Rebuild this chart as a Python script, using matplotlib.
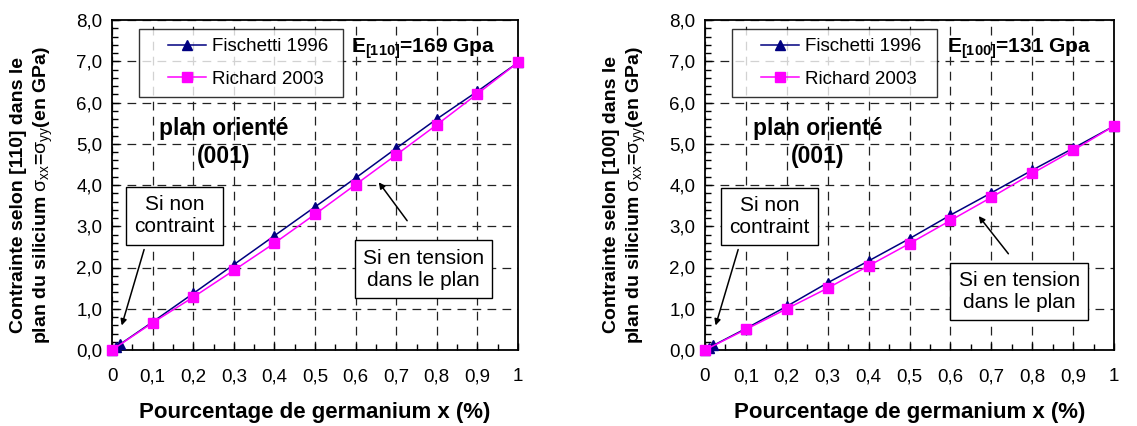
import numpy as np
import matplotlib
matplotlib.use('Agg')
import matplotlib.pyplot as plt
from matplotlib.ticker import MultipleLocator, FixedLocator
from matplotlib.lines import Line2D
from matplotlib.legend_handler import HandlerLine2D

plt.rcParams['font.family'] = ['Liberation Sans', 'DejaVu Sans']
plt.rcParams['mathtext.fontset'] = 'custom'
plt.rcParams['mathtext.rm'] = 'Liberation Sans'
plt.rcParams['mathtext.it'] = 'Liberation Sans:italic'
plt.rcParams['mathtext.bf'] = 'Liberation Sans:bold'

# x = fraction de germanium
x_fischetti = [0, 0.01, 0.02, 0.1, 0.2, 0.3, 0.4, 0.5, 0.6, 0.7, 0.8, 0.9, 1.0]
x_richard = [0, 0.1, 0.2, 0.3, 0.4, 0.5, 0.6, 0.7, 0.8, 0.9, 1.0]

# [110] : E = 169 GPa
fischetti_110 = [0, 0.07, 0.14, 0.68, 1.37, 2.07, 2.77, 3.47, 4.17, 4.89, 5.60, 6.27, 6.97]
richard_110 = [0, 0.66, 1.28, 1.93, 2.59, 3.29, 4.01, 4.73, 5.46, 6.21, 6.97]

# [100] : E = 131 GPa
fischetti_100 = [0, 0.055, 0.11, 0.52, 1.06, 1.63, 2.16, 2.70, 3.27, 3.81, 4.36, 4.89, 5.43]
richard_100 = [0, 0.50, 1.00, 1.50, 2.04, 2.58, 3.14, 3.70, 4.28, 4.84, 5.43]

x_ticks = [0, 0.1, 0.2, 0.3, 0.4, 0.5, 0.6, 0.7, 0.8, 0.9, 1.0]
x_ticklabels = ['0', '0,1', '0,2', '0,3', '0,4', '0,5', '0,6', '0,7', '0,8', '0,9', '1']
y_ticks = [0, 1, 2, 3, 4, 5, 6, 7, 8]
y_ticklabels = ['0,0', '1,0', '2,0', '3,0', '4,0', '5,0', '6,0', '7,0', '8,0']

panels = [
    dict(fis=fischetti_110, ric=richard_110, direction='110', E='169',
         pos=[112 / 1137, 76 / 426, 406 / 1137, 330 / 426],
         box_nc=(0.154, 3.25), arr_nc=((0.081, 2.5), (0.022, 0.53)),
         box_t=(0.767, 1.96), arr_t=((0.731, 3.08), (0.653, 4.12))),
    dict(fis=fischetti_100, ric=richard_100, direction='100', E='131',
         pos=[705 / 1137, 76 / 426, 409 / 1137, 330 / 426],
         box_nc=(0.158, 3.24), arr_nc=((0.083, 2.5), (0.024, 0.53)),
         box_t=(0.768, 1.42), arr_t=((0.746, 2.28), (0.665, 3.30))),
]

fig = plt.figure(figsize=(11.37, 4.26), dpi=100)

for p in panels:
    ax = fig.add_axes(p['pos'])
    ax.plot(x_fischetti, p['fis'], color='#000080', lw=1.1, marker='^', ms=7,
            label='Fischetti 1996', clip_on=False, zorder=4)
    ax.plot(x_richard, p['ric'], color='#FF00FF', lw=1.1, marker='s', ms=6.5,
            label='Richard 2003', clip_on=False, zorder=5)

    ax.set_xlim(0, 1)
    ax.set_ylim(0, 8)
    ax.xaxis.set_major_locator(FixedLocator(x_ticks))
    ax.set_xticklabels(x_ticklabels)
    ax.yaxis.set_major_locator(FixedLocator(y_ticks))
    ax.set_yticklabels(y_ticklabels)
    ax.xaxis.set_minor_locator(MultipleLocator(0.05))
    ax.yaxis.set_minor_locator(MultipleLocator(0.2))
    ax.tick_params(which='both', direction='in', labelsize=13.5, pad=7)
    ax.tick_params(which='major', length=5, width=1)
    ax.tick_params(which='minor', length=4, width=1)
    ax.tick_params(axis='x', pad=13)
    for s in ax.spines.values():
        s.set_linewidth(1.3)

    ax.grid(True, which='major', color='#222222', lw=0.9, dashes=(7, 5))
    ax.set_axisbelow(True)

    ax.set_xlabel('Pourcentage de germanium x (%)', fontsize=16, fontweight='bold', labelpad=12)
    ax.set_ylabel('Contrainte selon [%s] dans le\nplan du silicium ' % p['direction']
                  + r'$\mathrm{\sigma_{xx}}$=$\mathrm{\sigma_{yy}}$(en GPa)',
                  fontsize=14, fontweight='bold', linespacing=1.3)
    ax.yaxis.set_label_coords(-0.14, 0.47)

    # xpad pushes the legend lines to the right inside the frame
    leg = ax.legend(loc='upper left', bbox_to_anchor=(0.066, 0.758, 0.502, 0.215),
                    mode='expand', borderaxespad=0, fontsize=13.5, frameon=True,
                    fancybox=False, edgecolor='black', handlelength=3.1,
                    handletextpad=0.3, labelspacing=0.8, borderpad=0.5,
                    handler_map={Line2D: HandlerLine2D(xpad=1.05)})
    leg.get_frame().set_linewidth(1.0)

    ax.text(0.767, 7.3, r'$\mathbf{E_{[%s]}}$=%s Gpa' % (p['direction'], p['E']),
            fontsize=15, fontweight='bold', ha='center', va='center')
    ax.text(0.275, 5.03, 'plan orienté\n(001)', fontsize=16.5, fontweight='bold',
            ha='center', va='center', linespacing=1.3)

    box = dict(boxstyle='square,pad=0.4', fc='white', ec='black', lw=1.0)
    ax.text(p['box_nc'][0], p['box_nc'][1], 'Si non\ncontraint', fontsize=15,
            ha='center', va='center', bbox=box, zorder=6)
    ax.text(p['box_t'][0], p['box_t'][1], 'Si en tension\ndans le plan', fontsize=15,
            ha='center', va='center', bbox=box, zorder=6)
    arrow = dict(arrowstyle='-|>', color='black', lw=1.1, mutation_scale=9)
    ax.annotate('', xy=p['arr_nc'][1], xytext=p['arr_nc'][0], arrowprops=arrow, zorder=6)
    ax.annotate('', xy=p['arr_t'][1], xytext=p['arr_t'][0], arrowprops=arrow, zorder=6)

fig.savefig('out.png', dpi=100)
